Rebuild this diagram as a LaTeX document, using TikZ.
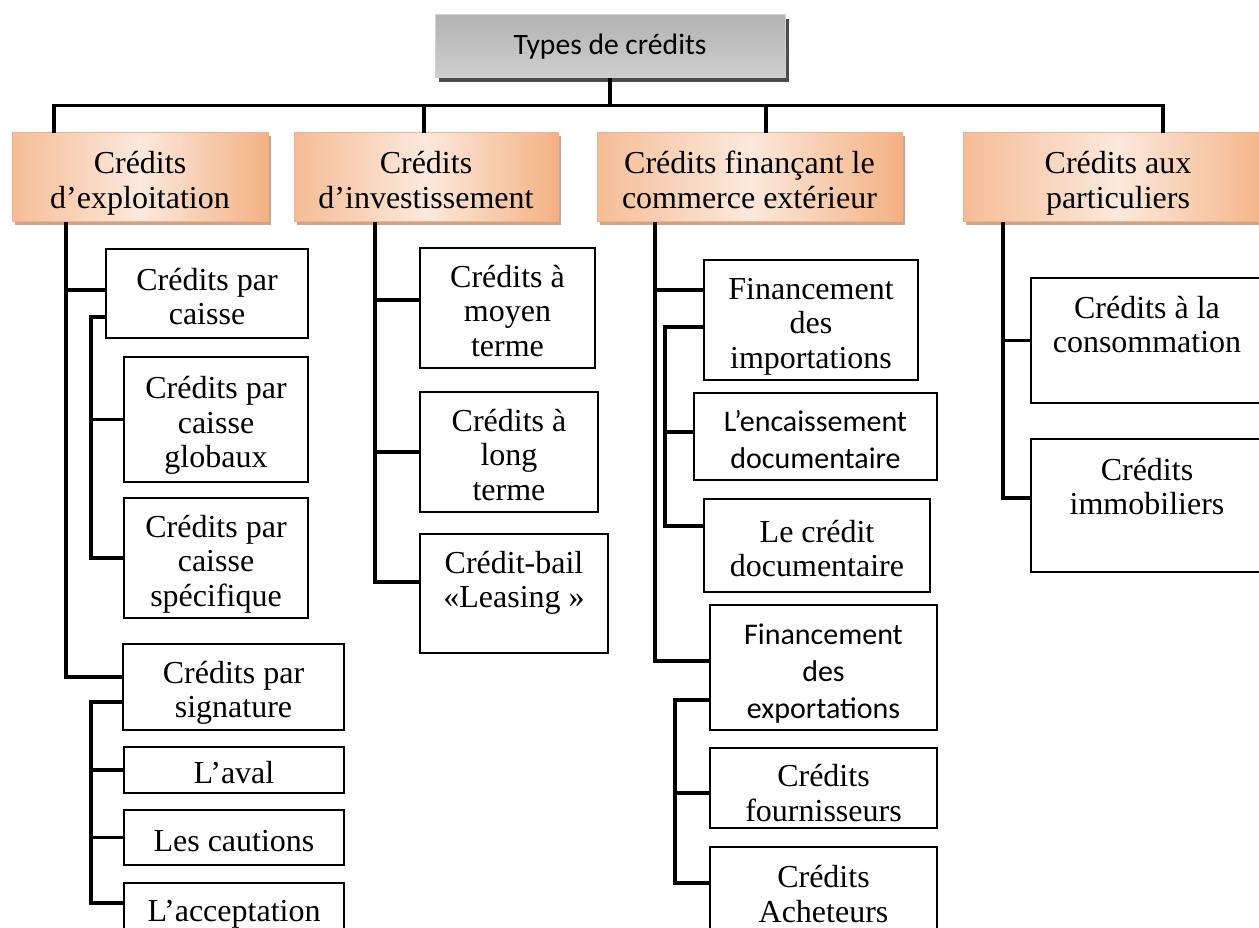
\documentclass[tikz,border=0pt]{standalone}
\usepackage{fontspec}
\setmainfont{Liberation Serif}
\newfontfamily\calibri{Carlito}
\usetikzlibrary{shadows}

\definecolor{peach}{HTML}{F4B183}
\definecolor{peachlight}{HTML}{FCE9DD}
\definecolor{peachshadow}{HTML}{C9A58C}

\newcommand{\tl}{\rule{0pt}{34pt}}

\tikzset{
  leaf/.style={draw, line width=1.5pt, fill=white, anchor=north west, inner sep=0pt, outer sep=0pt, align=center, font=\fontsize{32}{34.5}\selectfont, execute at end node={\rule[-6.4pt]{0pt}{0pt}}},
  calleaf/.style={leaf, font=\calibri\fontsize{30}{37}\selectfont},
  lift/.style={execute at end node={\rule[-#1]{0pt}{0pt}}},
  family/.style={draw=peach, line width=1pt, anchor=north west, inner sep=0pt, outer sep=0pt, align=center, left color=peach!85, right color=peach, middle color=peachlight, font=\fontsize{32}{35}\selectfont, execute at end node={\rule[-6.4pt]{0pt}{0pt}}, general shadow={fill=peachshadow, shadow xshift=3pt, shadow yshift=-3pt}},
  link/.style={line width=3.4pt},
}

\begin{document}
\begin{tikzpicture}[x=1pt,y=-1pt]

\useasboundingbox (0,0) rectangle (1259,928);

\node[draw=gray!35, line width=1pt, top color=gray!60, bottom color=gray!38, general shadow={fill=black!70, shadow xshift=4pt, shadow yshift=-4pt}, minimum width=350, minimum height=63, font=\calibri\fontsize{29.6}{35}\selectfont] (title) at (610,46.5) {Types de crédits};

\node[family, minimum width=256, minimum height=89] (expl) at (12,133) {\tl Crédits\\d’exploitation};
\node[family, minimum width=264, minimum height=89] (inv) at (294,133) {\tl Crédits\\d’investissement};
\node[family, minimum width=305, minimum height=89] (ext) at (597,133) {\tl Crédits finançant le\\commerce extérieur};
\node[family, minimum width=310, minimum height=89] (part) at (963,133) {\tl Crédits aux\\particuliers};

\node[leaf, minimum width=202, minimum height=89] (caisse) at (106,249) {\tl Crédits par\\caisse};
\node[leaf, minimum width=184, minimum height=125] (glob) at (124,357) {\tl Crédits par\\caisse\\globaux};
\node[leaf, minimum width=184, minimum height=120] (spec) at (124,498) {\tl Crédits par\\caisse\\spécifique};
\node[leaf, minimum width=221, minimum height=86] (sign) at (123,644) {\tl Crédits par\\signature};
\node[leaf, minimum width=220, minimum height=46] (aval) at (124,747) {\tl L’aval};
\node[leaf, minimum width=220, minimum height=55] (caut) at (124,810) {\tl Les cautions};
\node[leaf, minimum width=220, minimum height=50] (accept) at (124,883) {\tl L’acceptation};

\node[leaf, minimum width=175, minimum height=120] (moyen) at (420,248) {\tl Crédits à\\moyen\\terme};
\node[leaf, minimum width=178, minimum height=120] (long) at (420,392) {\tl Crédits à\\long\\terme};
\node[leaf, lift=40.5pt, minimum width=188, minimum height=119] (bail) at (420,534) {\tl Crédit-bail\\«Leasing »};

\node[leaf, minimum width=214, minimum height=120] (impo) at (704,260) {\tl Financement\\des\\importations};
\node[calleaf, minimum width=243, minimum height=87] (enc) at (694,393) {\tl L’encaissement\\documentaire};
\node[leaf, minimum width=226, minimum height=93] (doc) at (704,499) {\tl Le crédit\\documentaire};
\node[calleaf, minimum width=227, minimum height=125] (expo) at (710,605) {\tl Financement\\des\\exportations};
\node[leaf, minimum width=227, minimum height=80] (four) at (710,748) {\rule{0pt}{38pt}Crédits\\fournisseurs};
\node[leaf, minimum width=227, minimum height=88] (ach) at (710,847) {\tl Crédits\\Acheteurs};

\node[leaf, lift=44.5pt, minimum width=232, minimum height=125] (cons) at (1031,278) {\tl Crédits à la\\consommation};
\node[leaf, lift=50.5pt, minimum width=232, minimum height=133] (immo) at (1031,439) {\tl Crédits\\immobiliers};

\coordinate (hub) at ([yshift=-27pt]title.south);
\draw[link] (title.south) -- (hub);
\draw[link] (hub) -| ([xshift=42pt]expl.north west);
\draw[link] (hub) -| ([xshift=130pt]inv.north west);
\draw[link] (hub) -| ([xshift=169pt]ext.north west);
\draw[link] (hub) -| ([xshift=200pt]part.north west);

\coordinate (t1) at ([xshift=54pt]expl.south west);
\draw[link] (t1) |- ([yshift=3.5pt]caisse.west);
\draw[link] (t1) |- ([yshift=10pt]sign.west);
\coordinate (c1) at ([xshift=-15pt,yshift=-23.5pt]caisse.west);
\draw[link] ([yshift=-23.5pt]caisse.west) -- (c1) |- (glob.west);
\draw[link] (c1) |- (spec.west);
\coordinate (s1) at ([xshift=-32pt,yshift=-15pt]sign.west);
\draw[link] ([yshift=-15pt]sign.west) -- (s1) |- (aval.west);
\draw[link] (s1) |- (caut.west);
\draw[link] (s1) |- ([yshift=5pt]accept.west);

\coordinate (t2) at ([xshift=81pt]inv.south west);
\draw[link] (t2) |- ([yshift=8pt]moyen.west);
\draw[link] (t2) |- (long.west);
\draw[link] (t2) |- ([yshift=11.5pt]bail.west);

\coordinate (t3) at ([xshift=58pt]ext.south west);
\draw[link] (t3) |- ([yshift=30pt]impo.west);
\draw[link] (t3) |- ([yshift=6.5pt]expo.west);
\coordinate (i1) at ([xshift=-39pt,yshift=-7pt]impo.west);
\draw[link] ([yshift=-7pt]impo.west) -- (i1) |- ([yshift=4.5pt]enc.west);
\draw[link] (i1) |- ([yshift=19.5pt]doc.west);
\coordinate (e1) at ([xshift=-35pt,yshift=-32.5pt]expo.west);
\draw[link] ([yshift=-32.5pt]expo.west) -- (e1) |- ([yshift=-5pt]four.west);
\draw[link] (e1) |- ([yshift=8pt]ach.west);

\coordinate (t4) at ([xshift=40pt]part.south west);
\draw[link] (t4) |- (cons.west);
\draw[link] (t4) |- ([yshift=7.5pt]immo.west);

\end{tikzpicture}
\end{document}
